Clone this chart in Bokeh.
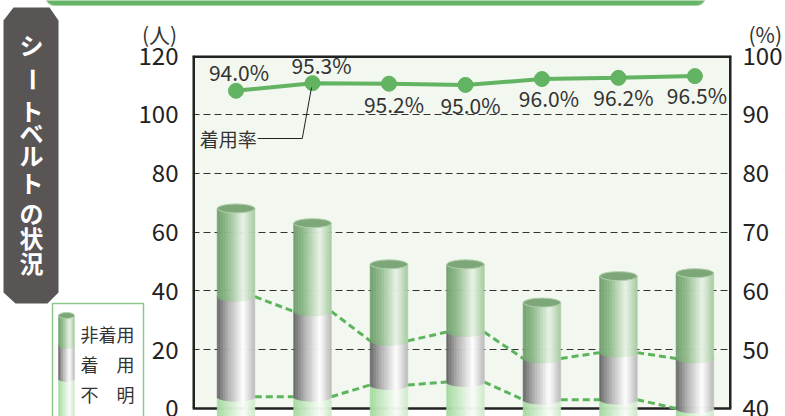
import numpy as np
from bokeh.plotting import figure
from bokeh.models import Range1d, LinearAxis, FixedTicker, ColumnDataSource, Column
from bokeh.core.properties import value
from bokeh.embed import file_html
from bokeh.resources import INLINE

# ---------------- data ----------------
periods = [0, 1, 2, 3, 4, 5, 6]
unknown = [4, 4, 8, 9, 3, 3, 0]          # 不明
worn = [34, 29, 15, 17, 14, 16, 17]      # 着用
not_worn = [30, 30, 26, 23, 19, 26, 29]  # 非着用
rate = [94.0, 95.3, 95.2, 95.0, 96.0, 96.2, 96.5]  # 着用率 (%)
left_ticks = [0, 20, 40, 60, 80, 100, 120]
right_ticks = [40, 50, 60, 70, 80, 90, 100]
legend_labels = ["非着用", "着\u3000用", "不\u3000明"]
title_chars = list("シートベルトの状況")
rate_name = "着用率"
left_unit = "(人)"
right_unit = "(%)"

FONT = "Noto Sans CJK JP"
W, H = 785, 416

# ---------------- colours ----------------
stops_u = [0.0, 0.3, 0.7, 1.0]
green = [(112, 158, 108), (148, 190, 144), (233, 243, 230), (166, 202, 161)]
gray = [(100, 100, 100), (178, 178, 178), (255, 255, 255), (186, 186, 186)]
light = [(163, 217, 158), (200, 233, 196), (250, 253, 249), (206, 234, 202)]
CAP = "#7EA779"
CAP_LINE = "#B0D0AC"
LINE_GREEN = "#62B362"


def col(stops, u):
    r = [int(round(np.interp(u, stops_u, [s[c] for s in stops]))) for c in range(3)]
    return "#%02x%02x%02x" % tuple(r)


# ================= main chart =================
FL, FR, FT, F0 = 192, 737, 55, 408
pitch = (700 - 236) / 6.0
xs0 = -(236 - FL) / pitch
xe0 = 6 + (FR - 700) / pitch
ppu = (F0 - FT) / 120.0
ys0 = -(H - F0) / ppu


def X(px):
    return xs0 + (px - FL) / pitch


def Y(py):
    return (F0 - py) / ppu


p = figure(width=W, height=H, x_range=Range1d(xs0, xe0), y_range=Range1d(ys0, 120),
           output_backend="svg", toolbar_location=None, x_axis_location=None,
           min_border_left=FL, min_border_right=W - FR, min_border_top=FT, min_border_bottom=0,
           background_fill_color="#F2F7EF", border_fill_color="white", outline_line_color=None)
p.frame_align = False
p.extra_y_ranges = {"pct": Range1d(40 + ys0 / 2.0, 100)}

ax = p.yaxis[0]
ax.ticker = FixedTicker(ticks=left_ticks)
ax.axis_line_color = None
ax.major_tick_line_color = None
ax.minor_tick_line_color = None
ax.major_tick_out = 0
ax.major_tick_in = 0
ax.major_label_standoff = 14
ax.major_label_text_font = FONT
ax.major_label_text_font_size = "24px"
ax.major_label_text_color = "#222222"

rax = LinearAxis(y_range_name="pct", ticker=FixedTicker(ticks=right_ticks))
rax.axis_line_color = None
rax.major_tick_line_color = None
rax.minor_tick_line_color = None
rax.major_tick_out = 0
rax.major_tick_in = 0
rax.major_label_standoff = 11
rax.major_label_text_font = FONT
rax.major_label_text_font_size = "24px"
rax.major_label_text_color = "#222222"
p.add_layout(rax, "right")

p.ygrid.ticker = FixedTicker(ticks=left_ticks[1:-1])
p.ygrid.grid_line_color = "#333333"
p.ygrid.grid_line_dash = "7 4"
p.ygrid.grid_line_width = 1.2
p.xgrid.visible = False

# white area below zero
p.quad(left=[xs0 - 1], right=[xe0 + 1], bottom=[ys0 - 1], top=[0], fill_color="white", line_color=None)
# frame box
p.segment(x0=[xs0, xs0, xe0, xs0], y0=[0, 120, 0, 0], x1=[xs0, xe0, xe0, xe0], y1=[120, 120, 120, 0],
          line_color="#222222", line_width=[5, 5, 5, 2.5])

# dashed connectors between cylinder segments
bw = 38 / pitch
cap = 9 / ppu
c1 = [u for u in unknown]
c2 = [u + w for u, w in zip(unknown, worn)]
tot = [u + w + n for u, w, n in zip(unknown, worn, not_worn)]
for lev in (c1, c2):
    p.segment(x0=[x + bw / 2 for x in periods[:-1]], y0=lev[:-1],
              x1=[x - bw / 2 for x in periods[1:]], y1=lev[1:],
              line_color="#5CB55C", line_width=3, line_dash="7 4")

# cylinders, drawn as shaded vertical strips
NS = 24
L, R, B, T, C = [], [], [], [], []
for i, xc in enumerate(periods):
    segs = [(ys0 - 2, c1[i], light), (c1[i], c2[i], gray), (c2[i], tot[i], green)]
    for y0, y1, stops in segs:
        for k in range(NS):
            u = (k + 0.5) / NS
            lft = xc - bw / 2 + k * bw / NS
            drop = cap / 2 * np.sqrt(max(0.0, 1 - (2 * u - 1) ** 2))
            L.append(lft)
            R.append(lft + bw / NS)
            B.append(y0 - drop)
            T.append(y1)
            C.append(col(stops, u))
src = ColumnDataSource(dict(left=L, right=R, bottom=B, top=T, color=C))
p.quad(left="left", right="right", bottom="bottom", top="top", fill_color="color",
       line_color="color", line_width=0.6, source=src)
p.ellipse(x=periods, y=tot, width=bw, height=cap, fill_color=CAP, line_color=CAP_LINE, line_width=1)

# rate line
p.line(periods, rate, y_range_name="pct", line_color=LINE_GREEN, line_width=4)
p.scatter(periods, rate, y_range_name="pct", size=15, fill_color=LINE_GREEN, line_color=LINE_GREEN)
x_off = [3, 9, 5, 5, 7, 5, 2]
y_off = [-19, -18, 20, 20, 19, 19, 19]
p.text(x=periods, y=rate, text=["%.1f%%" % v for v in rate], y_range_name="pct",
       x_offset=x_off, y_offset=y_off, text_align="center", text_baseline="middle",
       text_font=value(FONT), text_font_size="21px", text_color="#333333")

# callout for 着用率
p.text(x=[X(257)], y=[Y(138)], text=[rate_name], text_align="right", text_baseline="middle",
       text_font=value(FONT), text_font_size="19px", text_color="#333333")
p.line(x=[X(258), X(303), periods[1] - 1 / pitch], y=[Y(138), Y(138), Y(87)],
       line_color="#222222", line_width=1)

# ================= decoration layer (page pixel coordinates, transparent overlay) =================
d = figure(width=W, height=H, x_range=Range1d(0, W), y_range=Range1d(H, 0),
           output_backend="svg", toolbar_location=None, x_axis_location=None, y_axis_location=None,
           min_border=0, min_border_left=0, min_border_right=0, min_border_top=0, min_border_bottom=0,
           background_fill_alpha=0.0, border_fill_alpha=0.0, outline_line_color=None)
d.frame_align = False
d.grid.visible = False
d.styles = {"position": "absolute", "left": "0px", "top": "0px"}

# top green banner (rounded bottom corners)
rr = 9
ang = np.linspace(np.pi, np.pi / 2, 10)
bx = [45, 45] + [45 + rr + rr * np.cos(a) for a in ang]
by = [-20, 5 - rr] + [5 - rr + rr * np.sin(a) for a in ang]
ang2 = np.linspace(np.pi / 2, 0, 10)
bx += [705 - rr + rr * np.cos(a) for a in ang2] + [705, 705]
by += [5 - rr + rr * np.sin(a) for a in ang2] + [5 - rr, -20]
d.patch(bx, by, fill_color="#66B468", line_color="#A6D4A4", line_width=1)

# hexagon title plate with vertical text (ー rotated as in vertical writing)
hx = [3, 13, 49, 58, 58, 47, 15, 3]
hy = [20, 7, 7, 20, 292, 303, 303, 292]
d.patch(hx, hy, fill_color="#595555", line_color=None)
ty = [44, 79, 110, 132, 154, 182, 212, 237, 262]
tang = [np.pi / 2 if ch == "ー" else 0.0 for ch in title_chars]
d.text(x=[31] * len(title_chars), y=ty, text=title_chars, angle=tang,
       text_align="center", text_baseline="middle", text_font=value(FONT), text_font_size="24px",
       text_font_style="bold", text_color="white")

# axis unit labels
d.text(x=[159], y=[33], text=[left_unit], text_align="center", text_baseline="middle",
       text_font=value(FONT), text_font_size="21px", text_color="#333333")
d.text(x=[748], y=[33], text=[right_unit], text_align="left", text_baseline="middle",
       text_font=value(FONT), text_font_size="21px", text_color="#333333")

# legend box
d.quad(left=[52], right=[143], top=[303], bottom=[430], fill_color="white",
       line_color="#8DC58A", line_width=1.5)
lx0, lx1 = 58, 74
lsegs = [(378, 425, light), (345, 378, gray), (315, 345, green)]
NL = 10
lcap = 6
LL, LR, LT, LB, LC = [], [], [], [], []
for ytop, ybot, stops in lsegs:
    for k in range(NL):
        u = (k + 0.5) / NL
        a = lx0 + k * (lx1 - lx0) / NL
        drop = lcap / 2 * np.sqrt(max(0.0, 1 - (2 * u - 1) ** 2))
        LL.append(a)
        LR.append(a + (lx1 - lx0) / NL)
        LT.append(ytop)
        LB.append(ybot + drop)
        LC.append(col(stops, u))
d.quad(left=LL, right=LR, top=LT, bottom=LB, fill_color=LC, line_color=LC, line_width=0.5)
d.ellipse(x=[(lx0 + lx1) / 2], y=[315], width=lx1 - lx0, height=lcap, fill_color=CAP,
          line_color=CAP_LINE, line_width=1)
d.text(x=[80] * 3, y=[333, 363, 393], text=legend_labels, text_align="left", text_baseline="middle",
       text_font=value(FONT), text_font_size="18px", text_color="#333333")

layout = Column(children=[p, d])
open("out.html", "w").write(file_html(layout, INLINE))
